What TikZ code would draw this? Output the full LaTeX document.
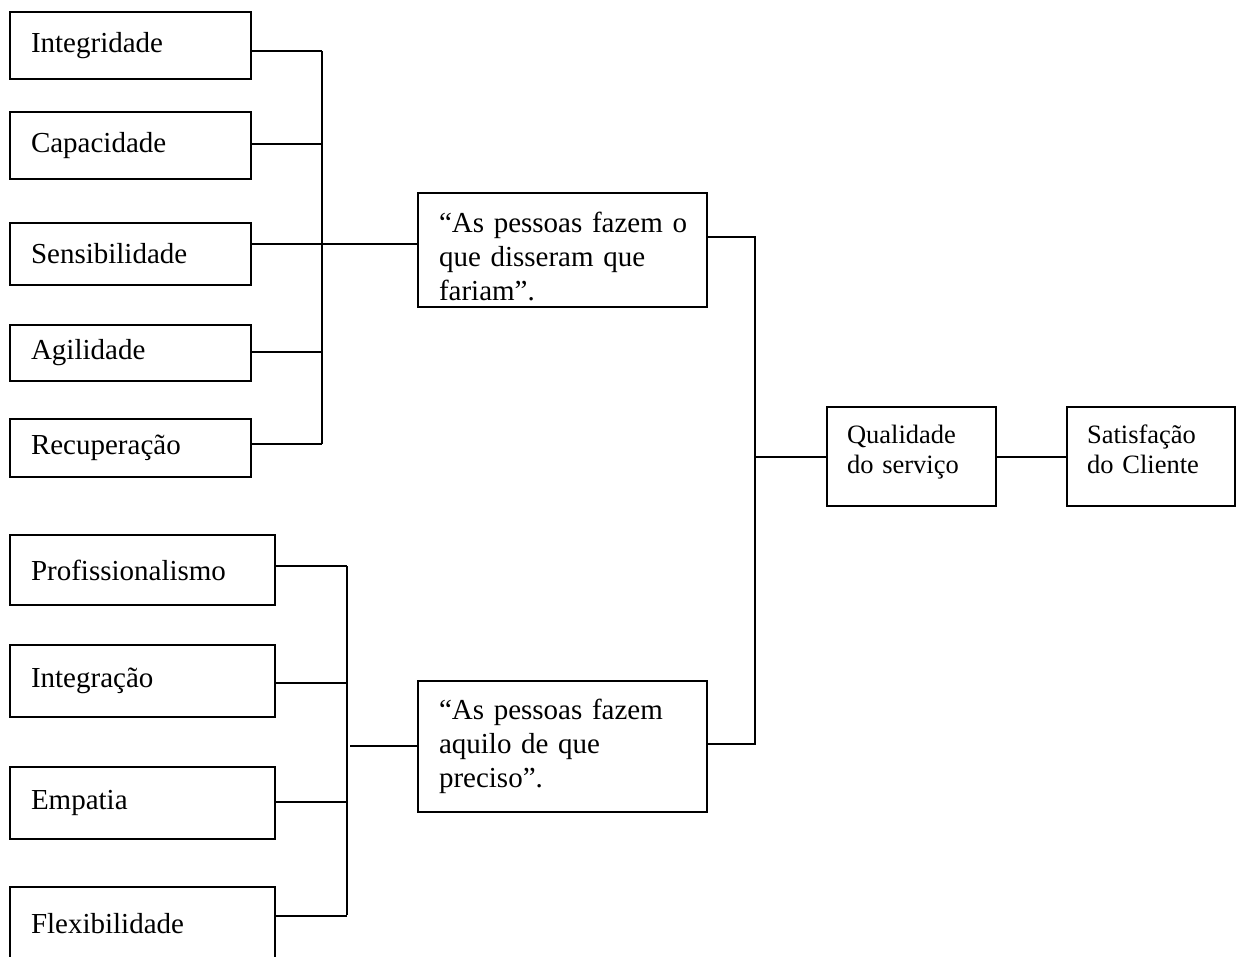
\documentclass[tikz,border=0pt]{standalone}
\usepackage{fontspec}
\setmainfont{Liberation Serif}
\begin{document}
\begin{tikzpicture}[x=1pt,y=-1pt,
  line width=1.8pt,
  box/.style={draw, rectangle, line width=1.8pt, align=left,
    inner xsep=21pt, inner ysep=0pt,
    font=\fontsize{29}{34}\selectfont},
  smallbox/.style={box, inner xsep=20pt,
    font=\fontsize{26.5}{30}\selectfont},
  link/.style={draw, line width=1.8pt}]
\useasboundingbox (0,0) rectangle (1236,956);
\clip (0,0) rectangle (1236,956);

% first group of attributes
\node[box, text width=199pt, minimum height=67pt] (integ) at (130.5,45.5) {Integridade};
\node[box, text width=199pt, minimum height=67pt] (capac) at (130.5,145.5) {Capacidade};
\node[box, text width=199pt, minimum height=62pt] (sensi) at (130.5,254) {Sensibilidade};
\node[box, text width=199pt, minimum height=56pt] (agil) at (130.5,353) {Agilidade};
\node[box, text width=199pt, minimum height=58pt] (recup) at (130.5,448) {Recuperação};

% second group of attributes
\node[box, text width=223pt, minimum height=70pt] (profi) at (142.5,570) {Profissionalismo};
\node[box, text width=223pt, minimum height=72pt] (integr) at (142.5,681) {Integração};
\node[box, text width=223pt, minimum height=72pt] (empat) at (142.5,803) {Empatia};
\node[box, text width=223pt, minimum height=73pt] (flex) at (142.5,923.5) {Flexibilidade};

% statements (each line kept whole)
\node[box, text width=247pt, minimum height=114pt] (said) at (562.5,250)
  {\rule{0pt}{34pt}\mbox{“As pessoas fazem o}\\\mbox{que disseram que}\\\mbox{fariam”.}};
\node[box, text width=247pt, minimum height=131pt] (need) at (562.5,746.5)
  {\mbox{“As pessoas fazem}\\\mbox{aquilo de que}\\\mbox{preciso”.}};

% outcomes (struts keep both boxes' lines level)
\node[smallbox, text width=129pt, minimum height=99pt] (qual) at (911.5,456.5)
  {\rule{0pt}{19pt}Qualidade\\do serviço\rule[-16pt]{0pt}{1pt}};
\node[smallbox, text width=128pt, minimum height=99pt] (sat) at (1151,456.5)
  {\rule{0pt}{19pt}Satisfação\\do Cliente\rule[-16pt]{0pt}{1pt}};

% bus of the first group
\coordinate (ta) at (322,51);
\coordinate (tb) at (322,144);
\coordinate (tc) at (322,244);
\coordinate (td) at (322,352);
\coordinate (te) at (322,444);
\draw[link] (ta) -- (te);
\draw[link] (integ.east |- ta) -- (ta);
\draw[link] (capac.east |- tb) -- (tb);
\draw[link] (sensi.east |- tc) -- (said.west |- tc);
\draw[link] (agil.east |- td) -- (td);
\draw[link] (recup.east |- te) -- (te);

% bus of the second group
\coordinate (ba) at (347,566);
\coordinate (bb) at (347,683);
\coordinate (bc) at (347,802);
\coordinate (bd) at (347,916);
\coordinate (bm) at (350,746);
\draw[link] (ba) -- ([yshift=1pt]bd);
\draw[link] (profi.east |- ba) -- (ba);
\draw[link] (integr.east |- bb) -- (bb);
\draw[link] (empat.east |- bc) -- (bc);
\draw[link] (flex.east |- bd) -- (bd);
\draw[link] (bm) -- (need.west |- bm);

% join of the two statements
\coordinate (ra) at (755,237);
\coordinate (rb) at (755,744);
\coordinate (rm) at (755,457);
\draw[link] (said.east |- ra) -- (ra) -- (rb) -- (need.east |- rb);
\draw[link] (rm) -- (qual.west |- rm);
\draw[link] (qual.east |- rm) -- (sat.west |- rm);
\end{tikzpicture}
\end{document}
